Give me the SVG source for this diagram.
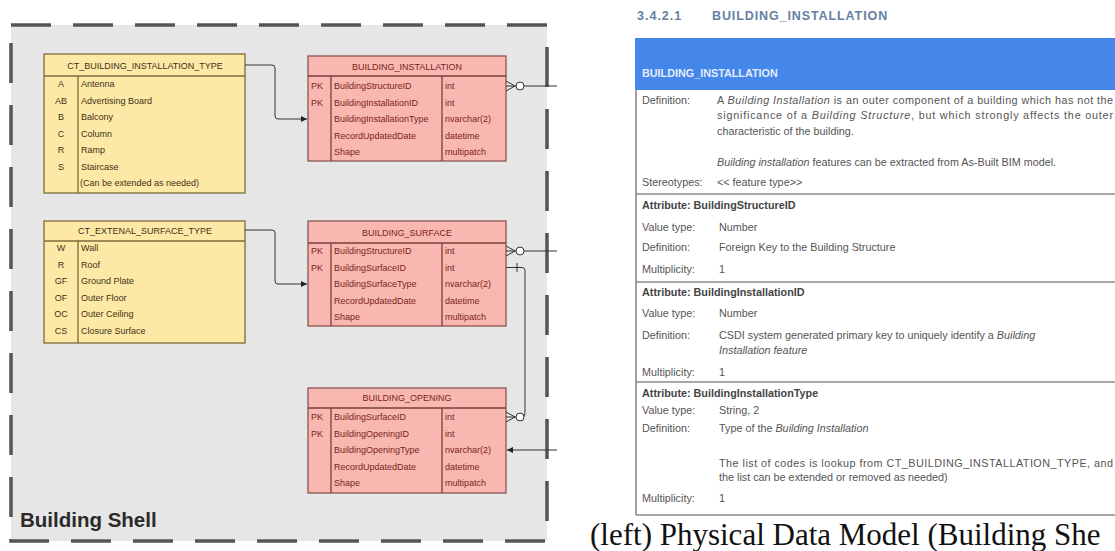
<svg xmlns="http://www.w3.org/2000/svg" width="1115" height="551" viewBox="0 0 1115 551">
<style>
.t{font-family:"Liberation Sans",Arial,sans-serif;font-size:9px}
.yb{fill:#fde8a6;stroke:#7d6b3a;stroke-width:1.3}
.yl{stroke:#7d6b3a;stroke-width:1.3}
.yt{fill:#3d3215}
.pb{fill:#f9b7b1;stroke:#8c5550;stroke-width:1.3}
.pl{stroke:#7a3e3a;stroke-width:1.3}
.pt{fill:#7a1f1a}
.c{fill:none;stroke:#333;stroke-width:1}
.r{font-family:"Liberation Sans",Arial,sans-serif;font-size:10.8px;fill:#555}
.rb{font-family:"Liberation Sans",Arial,sans-serif;font-size:10.8px;fill:#444;font-weight:bold}
.sep{stroke:#8a8a8a;stroke-width:1.6}
</style>
<defs>
<marker id="ar" viewBox="0 0 8 8" refX="8" refY="4" markerWidth="6" markerHeight="6" orient="auto" markerUnits="userSpaceOnUse">
<path d="M0,0 L8,4 L0,8 z" fill="#222"/>
</marker>
</defs>
<rect x="0" y="0" width="1115" height="551" fill="#ffffff"/>
<g id="panel">
<rect x="11" y="25" width="536" height="516" fill="#e6e6e6"/>
<rect x="11" y="25" width="536" height="516" fill="none" stroke="#555" stroke-width="3.5" stroke-dasharray="40 22"/>
<text x="20" y="527" font-family="Liberation Sans,Arial,sans-serif" font-size="20.5" font-weight="bold" fill="#2b2b2b">Building Shell</text>
</g>
<g id="ct_building_installation_type" class="t">
<rect class="yb" x="44" y="54" width="201" height="139"/>
<line class="yl" x1="44" y1="76" x2="245" y2="76"/>
<line class="yl" x1="78" y1="76" x2="78" y2="193"/>
<text class="yt" x="145" y="68.5" text-anchor="middle">CT_BUILDING_INSTALLATION_TYPE</text>
<g class="yt" text-anchor="middle">
<text x="61" y="87">A</text><text x="61" y="103.5">AB</text><text x="61" y="120">B</text><text x="61" y="136.5">C</text><text x="61" y="153">R</text><text x="61" y="169.5">S</text>
</g>
<g class="yt">
<text x="81" y="87">Antenna</text><text x="81" y="103.5">Advertising Board</text><text x="81" y="120">Balcony</text><text x="81" y="136.5">Column</text><text x="81" y="153">Ramp</text><text x="81" y="169.5">Staircase</text><text x="80" y="186">(Can be extended as needed)</text>
</g>
</g>
<g id="ct_extenal_surface_type" class="t">
<rect class="yb" x="44" y="221" width="201" height="122"/>
<line class="yl" x1="44" y1="241" x2="245" y2="241"/>
<line class="yl" x1="78" y1="241" x2="78" y2="343"/>
<text class="yt" x="145" y="233.5" text-anchor="middle">CT_EXTENAL_SURFACE_TYPE</text>
<g class="yt" text-anchor="middle">
<text x="61" y="251">W</text><text x="61" y="267.5">R</text><text x="61" y="284">GF</text><text x="61" y="300.5">OF</text><text x="61" y="317">OC</text><text x="61" y="333.5">CS</text>
</g>
<g class="yt">
<text x="81" y="251">Wall</text><text x="81" y="267.5">Roof</text><text x="81" y="284">Ground Plate</text><text x="81" y="300.5">Outer Floor</text><text x="81" y="317">Outer Ceiling</text><text x="81" y="333.5">Closure Surface</text>
</g>
</g>
<g id="building_installation" class="t">
<rect class="pb" x="308" y="56" width="198" height="105"/>
<line class="pl" x1="308" y1="76" x2="506" y2="76"/>
<line class="pl" x1="331" y1="76" x2="331" y2="161"/>
<line class="pl" x1="442" y1="76" x2="442" y2="161"/>
<text class="pt" x="407" y="69.5" text-anchor="middle">BUILDING_INSTALLATION</text>
<g class="pt">
<text x="311" y="89">PK</text><text x="311" y="105.5">PK</text>
<text x="334" y="89">BuildingStructureID</text><text x="334" y="105.5">BuildingInstallationID</text><text x="334" y="122">BuildingInstallationType</text><text x="334" y="138.5">RecordUpdatedDate</text><text x="334" y="155">Shape</text>
<text x="445" y="89">int</text><text x="445" y="105.5">int</text><text x="445" y="122">nvarchar(2)</text><text x="445" y="138.5">datetime</text><text x="445" y="155">multipatch</text>
</g>
</g>
<g id="building_surface" class="t">
<rect class="pb" x="308" y="221" width="198" height="105"/>
<line class="pl" x1="308" y1="243" x2="506" y2="243"/>
<line class="pl" x1="331" y1="243" x2="331" y2="326"/>
<line class="pl" x1="442" y1="243" x2="442" y2="326"/>
<text class="pt" x="407" y="235.5" text-anchor="middle">BUILDING_SURFACE</text>
<g class="pt">
<text x="311" y="254">PK</text><text x="311" y="270.5">PK</text>
<text x="334" y="254">BuildingStructureID</text><text x="334" y="270.5">BuildingSurfaceID</text><text x="334" y="287">BuildingSurfaceType</text><text x="334" y="303.5">RecordUpdatedDate</text><text x="334" y="320">Shape</text>
<text x="445" y="254">int</text><text x="445" y="270.5">int</text><text x="445" y="287">nvarchar(2)</text><text x="445" y="303.5">datetime</text><text x="445" y="320">multipatch</text>
</g>
</g>
<g id="building_opening" class="t">
<rect class="pb" x="308" y="388" width="198" height="105"/>
<line class="pl" x1="308" y1="408" x2="506" y2="408"/>
<line class="pl" x1="331" y1="408" x2="331" y2="493"/>
<line class="pl" x1="442" y1="408" x2="442" y2="493"/>
<text class="pt" x="407" y="400.5" text-anchor="middle">BUILDING_OPENING</text>
<g class="pt">
<text x="311" y="420">PK</text><text x="311" y="436.5">PK</text>
<text x="334" y="420">BuildingSurfaceID</text><text x="334" y="436.5">BuildingOpeningID</text><text x="334" y="453">BuildingOpeningType</text><text x="334" y="469.5">RecordUpdatedDate</text><text x="334" y="486">Shape</text>
<text x="445" y="420">int</text><text x="445" y="436.5">int</text><text x="445" y="453">nvarchar(2)</text><text x="445" y="469.5">datetime</text><text x="445" y="486">multipatch</text>
</g>
</g>
<g id="connectors">
<path class="c" d="M245,65 H272 Q275,65 275,68 V116 Q275,119 278,119 H307" marker-end="url(#ar)"/>
<path class="c" d="M245,230 H272 Q275,230 275,233 V281 Q275,284 278,284 H307" marker-end="url(#ar)"/>
<path class="c" d="M506,81 L515,86 L506,91 M506,86 H516 M524,86 H557"/>
<circle cx="520" cy="86" r="4" fill="#fff" stroke="#333" stroke-width="1"/>
<path class="c" d="M506,246 L515,251 L506,256 M506,251 H516 M524,251 H557"/>
<circle cx="520" cy="251" r="4" fill="#fff" stroke="#333" stroke-width="1"/>
<path class="c" d="M506,267.5 H522 Q525,267.5 525,270.5 V412 Q525,416 523.5,417"/>
<path class="c" d="M517,263 V272"/>
<path class="c" d="M506,412 L515,417 L506,422 M506,417 H516"/>
<circle cx="520" cy="417" r="4" fill="#fff" stroke="#333" stroke-width="1"/>
<path class="c" d="M557,450 H507" marker-end="url(#ar)"/>
</g>
<g id="spec">
<text x="637" y="19.5" font-family="Liberation Sans,Arial,sans-serif" font-size="12.5" font-weight="bold" fill="#6580a3" letter-spacing="1">3.4.2.1</text>
<text x="712" y="19.5" font-family="Liberation Sans,Arial,sans-serif" font-size="12.5" font-weight="bold" fill="#6580a3" letter-spacing="0.9">BUILDING_INSTALLATION</text>
<rect x="635" y="38" width="480" height="52" fill="#4586ea"/>
<text x="642" y="77" font-family="Liberation Sans,Arial,sans-serif" font-size="10.8" font-weight="bold" fill="#e3ecfc">BUILDING_INSTALLATION</text>
<line class="sep" x1="636" y1="90" x2="636" y2="515"/>
<line class="sep" x1="636" y1="194" x2="1115" y2="194"/>
<line class="sep" x1="636" y1="282" x2="1115" y2="282"/>
<line class="sep" x1="636" y1="382" x2="1115" y2="382"/>
<line class="sep" x1="636" y1="515" x2="1115" y2="515"/>
<text class="r" x="642" y="103.5">Definition:</text>
<text class="r" x="717" y="103.5" textLength="396" lengthAdjust="spacing">A <tspan font-style="italic">Building Installation</tspan> is an outer component of a building which has not the</text>
<text class="r" x="717" y="119" textLength="396" lengthAdjust="spacing">significance of a <tspan font-style="italic">Building Structure</tspan>, but which strongly affects the outer</text>
<text class="r" x="717" y="134.5">characteristic of the building.</text>
<text class="r" x="717" y="165.5"><tspan font-style="italic">Building installation</tspan> features can be extracted from As-Built BIM model.</text>
<text class="r" x="642" y="185.5">Stereotypes:</text>
<text class="r" x="717" y="185.5">&lt;&lt; feature type&gt;&gt;</text>
<text class="rb" x="642" y="209">Attribute: BuildingStructureID</text>
<text class="r" x="642" y="231">Value type:</text>
<text class="r" x="719" y="231">Number</text>
<text class="r" x="642" y="251">Definition:</text>
<text class="r" x="719" y="251">Foreign Key to the Building Structure</text>
<text class="r" x="642" y="273">Multiplicity:</text>
<text class="r" x="719" y="273">1</text>
<text class="rb" x="642" y="296">Attribute: BuildingInstallationID</text>
<text class="r" x="642" y="317">Value type:</text>
<text class="r" x="719" y="317">Number</text>
<text class="r" x="642" y="339">Definition:</text>
<text class="r" x="719" y="339">CSDI system generated primary key to uniquely identify a <tspan font-style="italic">Building</tspan></text>
<text class="r" x="719" y="354" font-style="italic">Installation feature</text>
<text class="r" x="642" y="376">Multiplicity:</text>
<text class="r" x="719" y="376">1</text>
<text class="rb" x="642" y="397">Attribute: BuildingInstallationType</text>
<text class="r" x="642" y="414">Value type:</text>
<text class="r" x="719" y="414">String, 2</text>
<text class="r" x="642" y="432">Definition:</text>
<text class="r" x="719" y="432">Type of the <tspan font-style="italic">Building Installation</tspan></text>
<text class="r" x="719" y="467" textLength="394" lengthAdjust="spacing">The list of codes is lookup from CT_BUILDING_INSTALLATION_TYPE, and</text>
<text class="r" x="719" y="481">the list can be extended or removed as needed)</text>
<text class="r" x="642" y="502">Multiplicity:</text>
<text class="r" x="719" y="502">1</text>
<text x="590" y="545" font-family="Liberation Serif,Times New Roman,serif" font-size="31" fill="#111">(left) Physical Data Model (Building She</text>
</g>
</svg>
